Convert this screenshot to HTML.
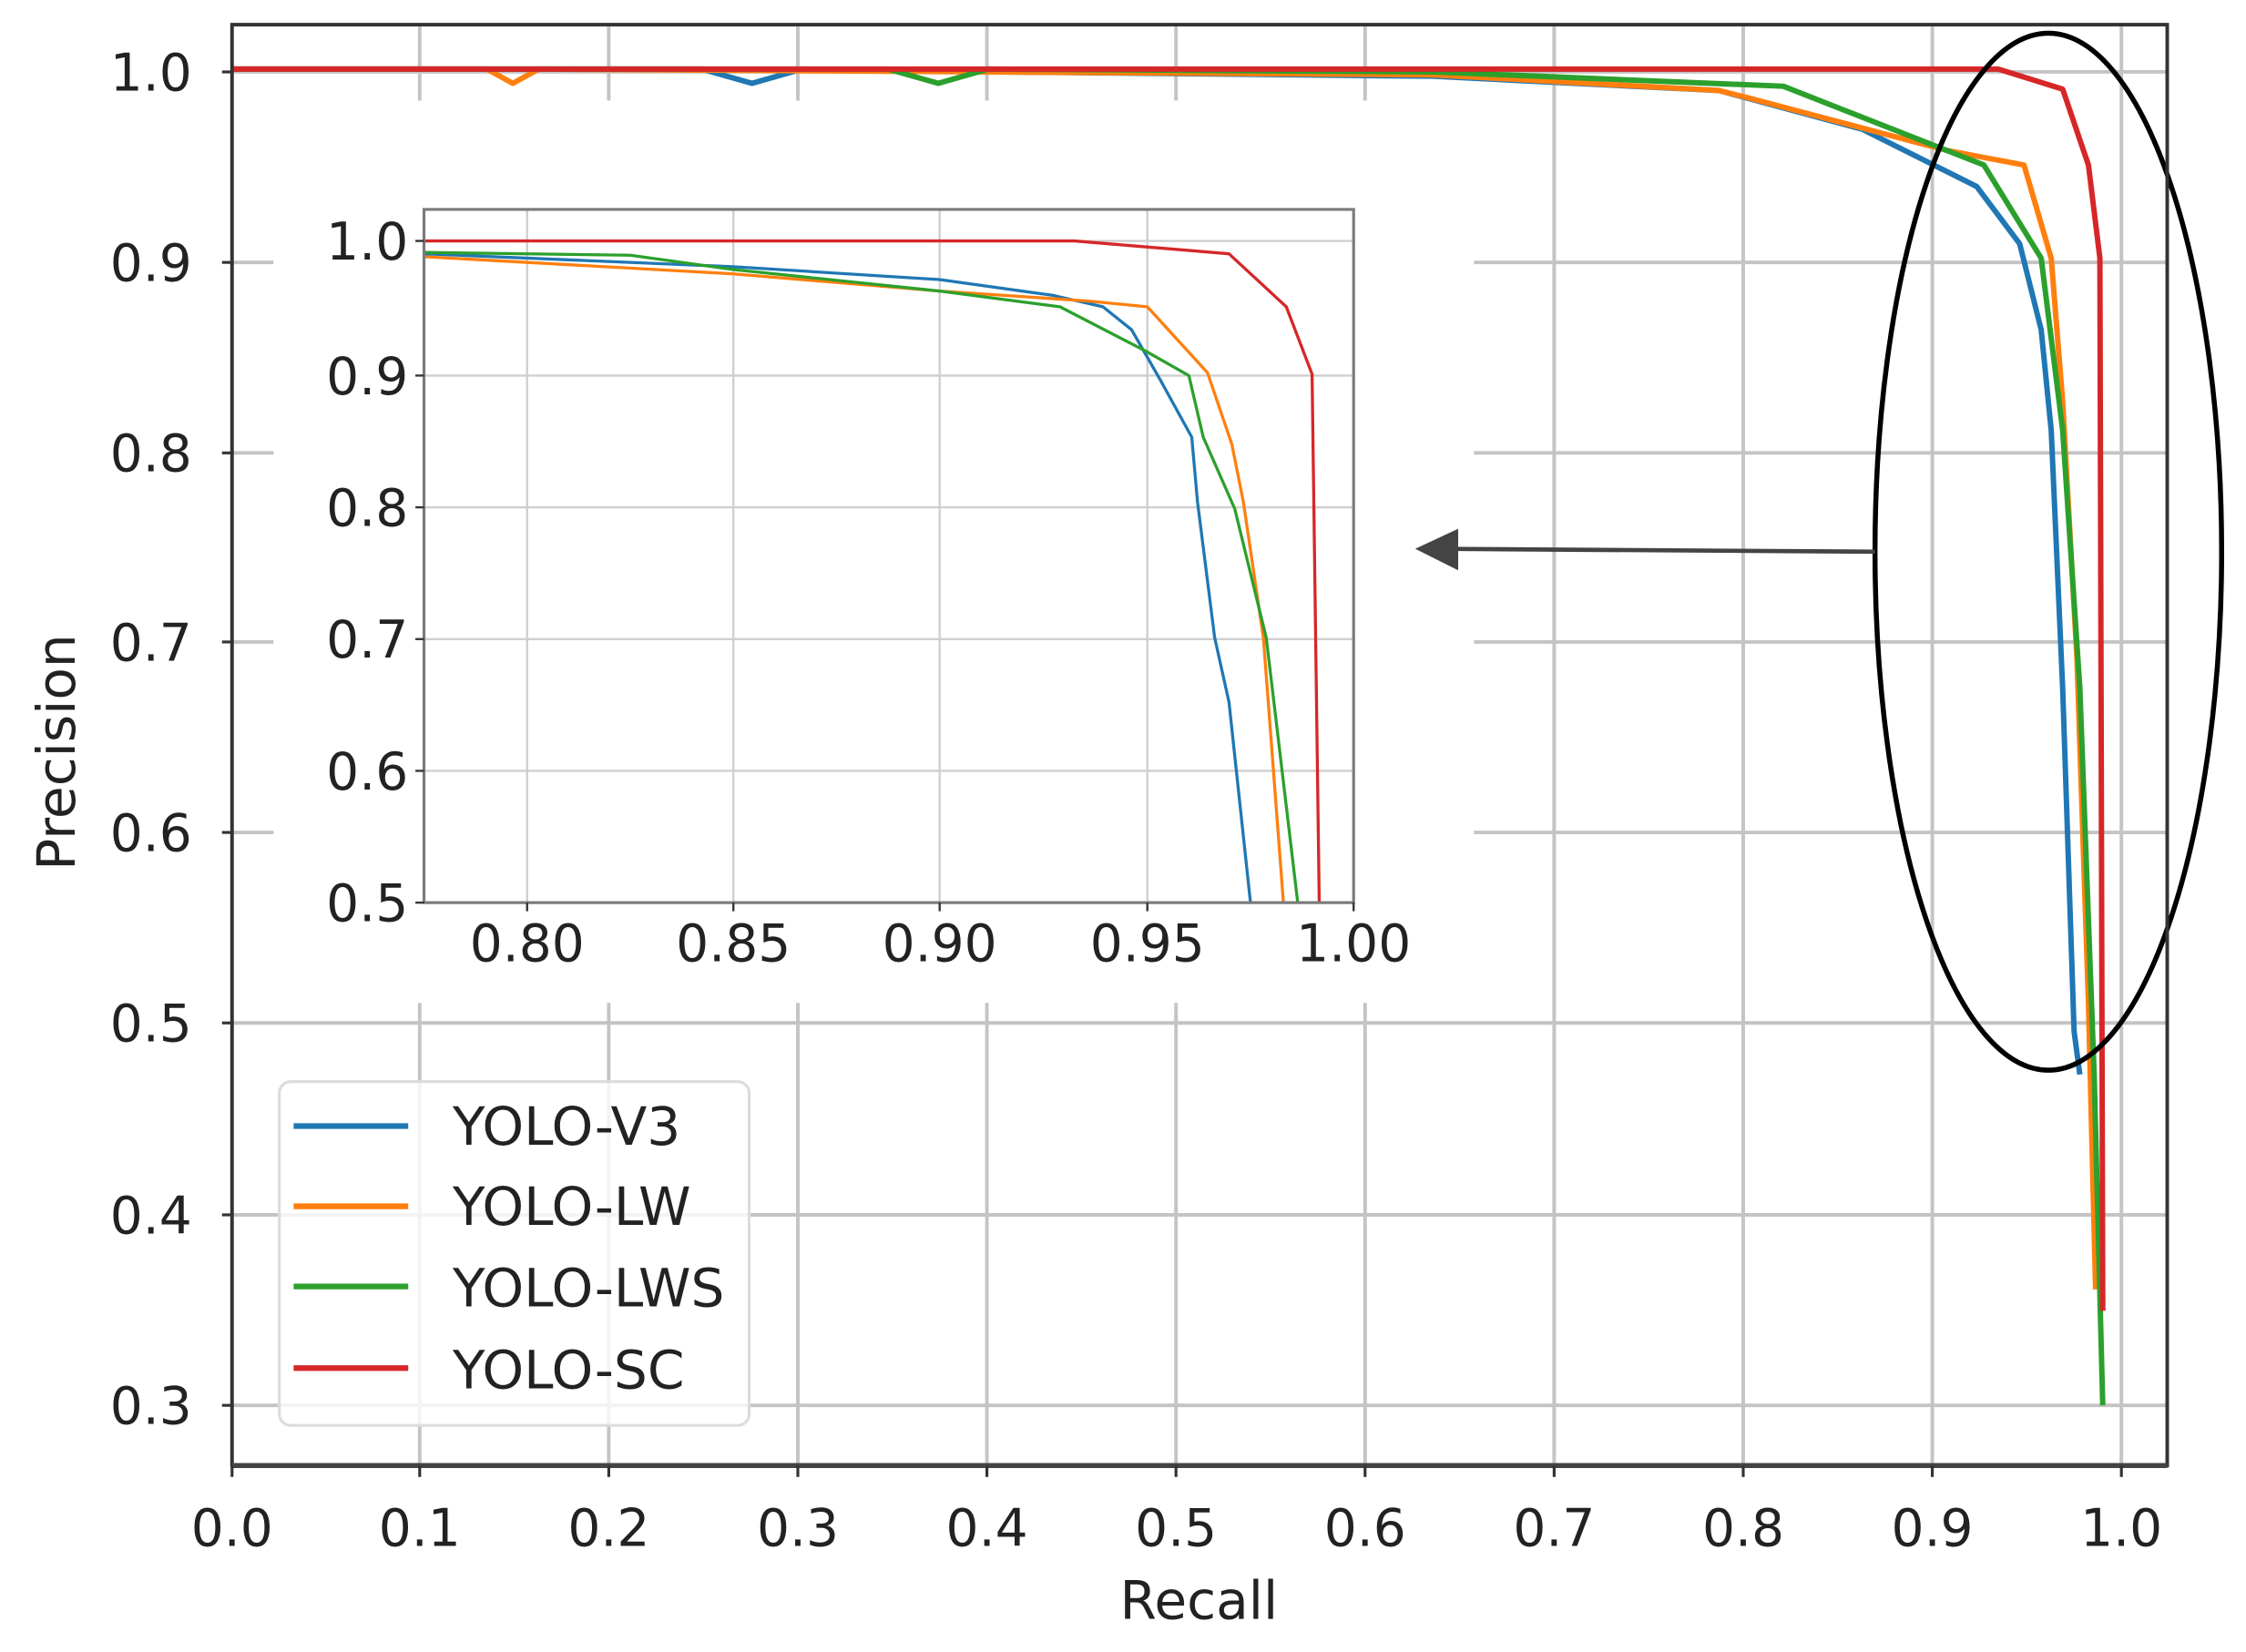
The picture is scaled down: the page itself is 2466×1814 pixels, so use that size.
<!DOCTYPE html>
<html><head><meta charset="utf-8"><style>html,body{margin:0;padding:0;background:#fff}svg{display:block}</style></head>
<body>
<svg width="2466" height="1814" viewBox="0 0 1568 1153" xmlns="http://www.w3.org/2000/svg" font-family="DejaVu Sans, Liberation Sans, sans-serif">
<rect width="1568" height="1153" fill="#fff"/>
<g stroke="#c4c4c4" stroke-width="2.5">
<line x1="293" y1="17" x2="293" y2="1022"/><line x1="425" y1="17" x2="425" y2="1022"/><line x1="557" y1="17" x2="557" y2="1022"/><line x1="689" y1="17" x2="689" y2="1022"/><line x1="821" y1="17" x2="821" y2="1022"/><line x1="953" y1="17" x2="953" y2="1022"/><line x1="1085" y1="17" x2="1085" y2="1022"/><line x1="1217" y1="17" x2="1217" y2="1022"/><line x1="1349" y1="17" x2="1349" y2="1022"/><line x1="1481" y1="17" x2="1481" y2="1022"/>
<line x1="162" y1="50" x2="1513" y2="50"/><line x1="162" y1="183" x2="1513" y2="183"/><line x1="162" y1="316" x2="1513" y2="316"/><line x1="162" y1="448" x2="1513" y2="448"/><line x1="162" y1="581" x2="1513" y2="581"/><line x1="162" y1="714" x2="1513" y2="714"/><line x1="162" y1="848" x2="1513" y2="848"/><line x1="162" y1="981" x2="1513" y2="981"/>
</g>
<rect x="191" y="70" width="838" height="630" fill="#fff"/>
<g fill="none" stroke-width="3.8" stroke-linejoin="round">
<polyline stroke="#1f77b4" points="162,48 490,48 525,58 560,48 700,50 1000,53 1200,63 1300,90 1380,130 1410,170 1425,230 1432,300 1440,480 1448,720 1452,750"/>
<polyline stroke="#ff7f0e" points="162,48 340,48 358,58 376,48 1000,52 1200,63 1220,68 1360,105 1413,115 1432,180 1440,280 1450,460 1458,700 1463,900"/>
<polyline stroke="#2ca02c" points="162,48 620,48 655,58 690,48 1000,50 1245,60 1385,115 1425,180 1440,300 1452,480 1462,750 1468,981"/>
<polyline stroke="#d62728" points="162,48 1395,48 1440,62 1458,115 1466,180 1468,915"/>
</g>
<rect x="296" y="146" width="649" height="484" fill="#fff"/>
<g stroke="#cfcfcf" stroke-width="1.5">
<line x1="368" y1="146" x2="368" y2="630"/><line x1="512" y1="146" x2="512" y2="630"/><line x1="656" y1="146" x2="656" y2="630"/><line x1="801" y1="146" x2="801" y2="630"/>
<line x1="296" y1="168" x2="945" y2="168"/><line x1="296" y1="262" x2="945" y2="262"/><line x1="296" y1="354" x2="945" y2="354"/><line x1="296" y1="446" x2="945" y2="446"/><line x1="296" y1="538" x2="945" y2="538"/>
</g>
<g fill="none" stroke-width="2.1" stroke-linejoin="round">
<polyline stroke="#1f77b4" points="296,177 512,186 656,195 735,206 770,214 790,230 810,265 832,305 836,350 848,445 858,490 873,630"/>
<polyline stroke="#ff7f0e" points="296,179 512,191 656,203 760,210 801,214 843,260 860,310 868,350 882,445 896,630"/>
<polyline stroke="#2ca02c" points="296,176 440,178 512,188 656,203 740,214 800,245 830,262 840,305 862,355 884,445 906,630"/>
<polyline stroke="#d62728" points="296,168 750,168 858,177 898,214 916,261 921,630"/>
</g>
<rect x="296" y="146" width="649" height="484" fill="none" stroke="#7a7a7a" stroke-width="2"/>
<g stroke="#333" stroke-width="1.5"><line x1="290" y1="168" x2="296" y2="168"/><line x1="290" y1="262" x2="296" y2="262"/><line x1="290" y1="354" x2="296" y2="354"/><line x1="290" y1="446" x2="296" y2="446"/><line x1="290" y1="538" x2="296" y2="538"/><line x1="290" y1="630" x2="296" y2="630"/>
<line x1="368" y1="630" x2="368" y2="636"/><line x1="512" y1="630" x2="512" y2="636"/><line x1="656" y1="630" x2="656" y2="636"/><line x1="801" y1="630" x2="801" y2="636"/><line x1="945" y1="630" x2="945" y2="636"/></g>
<g font-size="36" fill="#222" text-anchor="end">
<text x="285" y="181">1.0</text><text x="285" y="275">0.9</text><text x="285" y="367">0.8</text><text x="285" y="459">0.7</text><text x="285" y="551">0.6</text><text x="285" y="643">0.5</text></g>
<g font-size="36" fill="#222" text-anchor="middle">
<text x="368" y="671">0.80</text><text x="512" y="671">0.85</text><text x="656" y="671">0.90</text><text x="801" y="671">0.95</text><text x="945" y="671">1.00</text></g>
<ellipse cx="1430" cy="385" rx="121" ry="362" fill="none" stroke="#000" stroke-width="3.5"/>
<line x1="1309" y1="385" x2="1010" y2="383" stroke="#444" stroke-width="3"/>
<polygon points="988,383 1018,369 1018,398" fill="#444"/>
<rect x="195" y="755" width="328" height="240" rx="8" fill="#fff" fill-opacity="0.8" stroke="#dcdcdc" stroke-width="2"/>
<g stroke-width="4"><line x1="205" y1="786" x2="285" y2="786" stroke="#1f77b4"/><line x1="205" y1="842" x2="285" y2="842" stroke="#ff7f0e"/><line x1="205" y1="898" x2="285" y2="898" stroke="#2ca02c"/><line x1="205" y1="955" x2="285" y2="955" stroke="#d62728"/></g>
<g font-size="37" fill="#222"><text x="316" y="799">YOLO-V3</text><text x="316" y="855">YOLO-LW</text><text x="316" y="912">YOLO-LWS</text><text x="316" y="969">YOLO-SC</text></g>
<rect x="162" y="17" width="1351" height="1006" fill="none" stroke="#333" stroke-width="2.5"/>
<line x1="162" y1="1023" x2="1513" y2="1023" stroke="#444" stroke-width="3.5"/>
<g stroke="#333" stroke-width="2">
<line x1="155" y1="50" x2="162" y2="50"/><line x1="155" y1="183" x2="162" y2="183"/><line x1="155" y1="316" x2="162" y2="316"/><line x1="155" y1="448" x2="162" y2="448"/><line x1="155" y1="581" x2="162" y2="581"/><line x1="155" y1="714" x2="162" y2="714"/><line x1="155" y1="848" x2="162" y2="848"/><line x1="155" y1="981" x2="162" y2="981"/>
<line x1="162" y1="1023" x2="162" y2="1031"/><line x1="293" y1="1023" x2="293" y2="1031"/><line x1="425" y1="1023" x2="425" y2="1031"/><line x1="557" y1="1023" x2="557" y2="1031"/><line x1="689" y1="1023" x2="689" y2="1031"/><line x1="821" y1="1023" x2="821" y2="1031"/><line x1="953" y1="1023" x2="953" y2="1031"/><line x1="1085" y1="1023" x2="1085" y2="1031"/><line x1="1217" y1="1023" x2="1217" y2="1031"/><line x1="1349" y1="1023" x2="1349" y2="1031"/><line x1="1481" y1="1023" x2="1481" y2="1031"/></g>
<g font-size="36" fill="#222" text-anchor="end">
<text x="134" y="63">1.0</text><text x="134" y="196">0.9</text><text x="134" y="329">0.8</text><text x="134" y="461">0.7</text><text x="134" y="594">0.6</text><text x="134" y="727">0.5</text><text x="134" y="861">0.4</text><text x="134" y="994">0.3</text></g>
<g font-size="36" fill="#222" text-anchor="middle">
<text x="162" y="1079">0.0</text><text x="293" y="1079">0.1</text><text x="425" y="1079">0.2</text><text x="557" y="1079">0.3</text><text x="689" y="1079">0.4</text><text x="821" y="1079">0.5</text><text x="953" y="1079">0.6</text><text x="1085" y="1079">0.7</text><text x="1217" y="1079">0.8</text><text x="1349" y="1079">0.9</text><text x="1481" y="1079">1.0</text></g>
<text x="837" y="1130" font-size="37" fill="#222" text-anchor="middle">Recall</text>
<text transform="translate(52,525) rotate(-90)" font-size="37" fill="#222" text-anchor="middle">Precision</text>
</svg>
</body></html>
